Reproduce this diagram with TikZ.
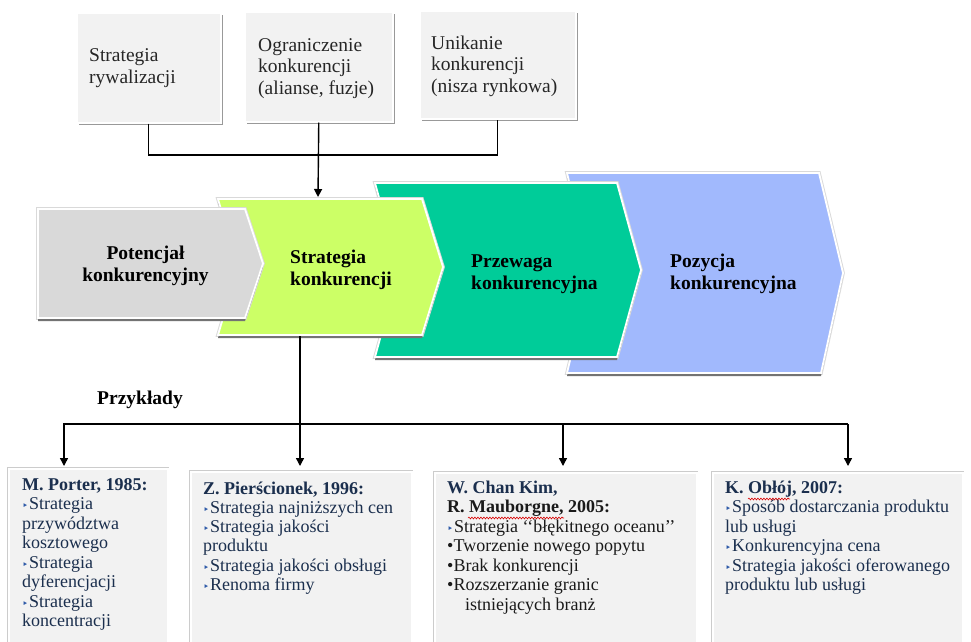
\documentclass[tikz,border=0pt]{standalone}
\usepackage{fontspec}
\setmainfont{Liberation Serif}
\newfontfamily\symfont{DejaVu Sans}
\usetikzlibrary{arrows.meta,decorations.pathmorphing}
\definecolor{chgray}{HTML}{D9D9D9}
\definecolor{chyel}{HTML}{CCFF66}
\definecolor{chteal}{HTML}{00CC99}
\definecolor{chblue}{HTML}{A1B9FD}
\definecolor{boxfill}{HTML}{F2F2F2}
\definecolor{navy}{HTML}{1B2F4E}
\definecolor{bulblue}{HTML}{2E5AA8}
\definecolor{txtdark}{HTML}{262626}
\definecolor{txtblack}{HTML}{1A1A1A}
\newcommand\tri{\makebox[7pt][l]{\color{bulblue}\symfont\fontsize{10.5}{10.5}\selectfont ‣}}
\begin{document}
\begin{tikzpicture}[x=1pt,y=-1pt,
  chev/.style={fill=#1, draw=white, line width=1.8pt, line join=miter,
    preaction={draw=black!15, line width=3.6pt},
    preaction={fill=black!55, transform canvas={yshift=-3pt}}},
  topbox/.style={fill=boxfill, draw=white, line width=1.5pt, anchor=north west,
    inner sep=0pt, minimum height=110pt,
    preaction={fill=black!40, transform canvas={xshift=2pt,yshift=-2.5pt}}},
  botbox/.style={fill=boxfill, draw=white, line width=1.5pt, anchor=north west,
    inner sep=0pt, minimum height=200pt,
    preaction={draw=black!20, line width=3.2pt}},
  toptxt/.style={font=\fontsize{19.5}{21.5}\selectfont, text=txtdark, align=left,
    inner sep=0pt, anchor=base west},
  chtxt/.style={font=\fontsize{19.5}{22.5}\selectfont\bfseries, text=black, align=left,
    inner sep=0pt, anchor=base west},
  btxt/.style={font=\fontsize{18}{19.5}\selectfont, align=left,
    inner sep=0pt, anchor=base west},
  conn/.style={draw=black, line width=1.4pt},
  arr/.style={conn, -{Triangle[length=8pt,width=8pt]}},
  squig/.style={draw=red!85!black, line width=0.6pt,
    decorate, decoration={snake, amplitude=0.9pt, segment length=3pt}}
]
\useasboundingbox (0,0) rectangle (971,641);
\fill[white] (0,0) rectangle (971,641);

% top boxes
\node[topbox, minimum width=144pt] (top1) at (76,12) {};
\node[topbox, minimum width=148pt] (top2) at (244,11) {};
\node[topbox, minimum width=156pt, minimum height=108pt] (top3) at (419,10) {};
% (multi-line nodes: base = baseline of the last line)
\node[toptxt] (t1txt) at (89,83) {Strategia\\rywalizacji};
\node[toptxt] (t2txt) at (258,94) {Ograniczenie\\konkurencji\\(alianse, fuzje)};
\node[toptxt] (t3txt) at (431,92) {Unikanie\\konkurencji\\(nisza rynkowa)};

% connectors from top boxes
\coordinate (hb) at (0,155);
\coordinate (ytop) at (318,197);
\draw[conn] (top1.south) |- (hb -| top3.south) -- (top3.south);
\draw[arr] (top2.south) -- (ytop);

% chevrons (right to left so that the left ones lie on top)
\path[chev=chblue] (567,173) -- (819,173) -- (843,273) -- (821,373) -- (567,373) -- (591,273) -- cycle;
\path[chev=chteal] (375,183) -- (617,183) -- (641,270) -- (617,357) -- (375,357) -- (399,270) -- cycle;
\path[chev=chyel] (218,199) -- (422,199) -- (443,267) -- (422,335) -- (218,335) -- (238,267) -- cycle;
\path[chev=chgray] (38,209) -- (245,209) -- (263,263.5) -- (245,318) -- (38,318) -- cycle;

\node[chtxt, anchor=base, align=center] (c1txt) at (145.5,281.5) {Potencjał\\konkurencyjny};
\node[chtxt] (c2txt) at (290,285.5) {Strategia\\konkurencji};
\node[chtxt] (c3txt) at (471,289.5) {Przewaga\\konkurencyjna};
\node[chtxt] (c4txt) at (670,289.5) {Pozycja\\konkurencyjna};

\node[chtxt] (przyk) at (97,404) {Przykłady};

% bottom boxes
\node[botbox, minimum width=159pt] (b1) at (8,468) {};
\node[botbox, minimum width=221pt] (b2) at (190,471) {};
\node[botbox, minimum width=262pt] (b3) at (434,472) {};
\node[botbox, minimum width=250pt] (b4) at (712,472) {};

% lower connectors
\coordinate (ybot) at (300,336);
\coordinate (bar) at (0,424);
\coordinate (bt1) at (64,466);
\coordinate (bt2) at (300,466);
\coordinate (bt3) at (563,466);
\coordinate (bt4) at (848,466);
\draw[arr] (ybot) -- (bt2);
\draw[arr] (bar -| bt4) -| (bt1);
\draw[arr] (bar -| bt3) -- (bt3);
\draw[arr] (bar -| bt4) -- (bt4);

% bottom texts
\node[btxt, text=navy] (b1txt) at (22,626.5) {\textbf{M. Porter, 1985:}\\\tri Strategia\\przywództwa\\kosztowego\\\tri Strategia\\dyferencjacji\\\tri Strategia\\koncentracji};
\node[btxt, text=navy, font=\fontsize{18}{19.3}\selectfont] (b2txt) at (203,590.5) {\textbf{Z. Pierścionek, 1996:}\\\tri Strategia najniższych cen\\\tri Strategia jakości\\produktu\\\tri Strategia jakości obsługi\\\tri Renoma firmy};
\node[btxt, text=txtblack] (b3txt) at (447,610) {{\color{navy}\textbf{W. Chan Kim,}}\\\textbf{R. Mauborgne, 2005:}\\\tri Strategia ‘‘błękitnego oceanu’’\\•Tworzenie nowego popytu\\•Brak konkurencji\\•Rozszerzanie granic\\\hspace*{18pt}istniejących branż};
\node[btxt, text=navy] (b4txt) at (725,590.5) {\textbf{K. Obłój, 2007:}\\\tri Sposób dostarczania produktu\\lub usługi\\\tri Konkurencyjna cena\\\tri Strategia jakości oferowanego\\produktu lub usługi};

% spell-check underlines
\draw[squig] (468,518) -- (564,518);
\draw[squig] (748,499) -- (790,499);
\end{tikzpicture}
\end{document}
